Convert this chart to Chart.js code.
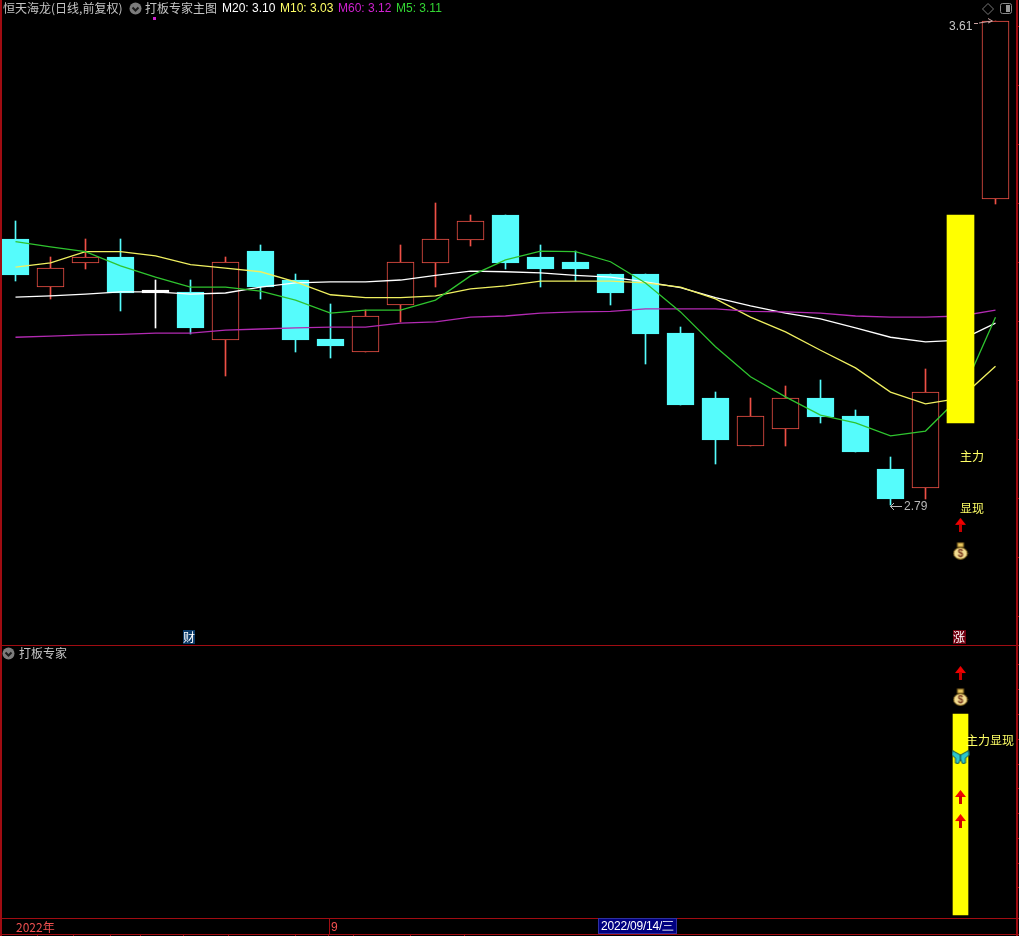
<!DOCTYPE html>
<html lang="zh">
<head>
<meta charset="utf-8">
<title>恒天海龙 日线</title>
<script src="https://cdn.jsdelivr.net/npm/chart.js@4/dist/chart.umd.min.js"></script>
<style>
  html, body { margin: 0; padding: 0; background: #000; width: 1019px; height: 936px; overflow: hidden; }
  canvas { position: absolute; left: 0; display: block; }
  .t { position: absolute; font: 12px/14px "Noto Sans CJK SC", sans-serif; white-space: pre; color: #c4c4c4; }
  .n { font-family: "Liberation Sans", sans-serif; }
  .line { position: absolute; background: #a00c12; }
  svg { position: absolute; }
</style>
</head>
<body>
<canvas id="mainChart" width="1019" height="645" style="top:0"></canvas>
<canvas id="subChart" width="1019" height="272" style="top:646px"></canvas>

<div class="line" style="left:0;top:0;width:2px;height:936px"></div>
<div class="line" style="left:1016px;top:0;width:2px;height:936px"></div>
<div class="line" style="left:0;top:645px;width:1019px;height:1px"></div>
<div class="line" style="left:0;top:918px;width:1019px;height:1px"></div>
<div class="line" style="left:0;top:934px;width:1019px;height:1px"></div>
<div class="line" style="left:329px;top:918px;width:1px;height:16px"></div>

<div class="t" style="left:3px;top:1px">恒天海龙(日线,前复权)</div>
<svg style="left:129px;top:2px" width="13" height="13"><circle cx="6.5" cy="6.5" r="6" fill="#7c7c7c"/><path d="M3.5 5.5 L6.5 8.5 L9.5 5.5" stroke="#1c1c1c" stroke-width="2" fill="none"/></svg>
<div class="t" style="left:145px;top:1px">打板专家主图</div>
<div class="t n" style="left:222px;top:1px;color:#fff">M20: 3.10</div>
<div class="t n" style="left:280px;top:1px;color:#ffff66">M10: 3.03</div>
<div class="t n" style="left:338px;top:1px;color:#d020d0">M60: 3.12</div>
<div class="t n" style="left:396px;top:1px;color:#33d633">M5: 3.11</div>
<div style="position:absolute;left:153px;top:17px;width:3px;height:3px;background:#d020d0"></div>
<svg style="left:982px;top:3px" width="12" height="12"><path d="M6 0.5 L11.5 6 L6 11.5 L0.5 6 Z" stroke="#777" fill="none"/></svg>
<svg style="left:1000px;top:3px" width="12" height="12"><rect x="0.5" y="0.5" width="11" height="10" rx="2" stroke="#888" fill="none"/><rect x="6" y="2" width="4" height="7" fill="#999"/></svg>

<div class="t n" style="left:949px;top:19px;color:#c8c8c8">3.61</div>
<svg style="left:973px;top:17px" width="22" height="10"><path d="M1 6.5 H5 M6 6 L19 4 M15 1.5 L19.5 4 L15 6" stroke="#c8a0a0" fill="none"/></svg>
<svg style="left:889px;top:500px" width="15" height="12"><path d="M1 6.5 H13 M5 3 L1.5 6.5 L5 10" stroke="#b8b8b8" fill="none"/></svg>
<div class="t n" style="left:904px;top:499px;color:#b8b8b8">2.79</div>
<div class="t" style="left:960px;top:449px;color:#ffff66">主力</div>
<div class="t" style="left:960px;top:501px;color:#ffff66">显现</div>

<div class="t" style="left:183px;top:630px;width:12px;height:14px;background:#0a3a68;color:#fff">财</div>
<div class="t" style="left:953px;top:630px;width:13px;height:14px;background:#700010;color:#fff">涨</div>

<svg style="left:2px;top:647px" width="13" height="13"><circle cx="6.5" cy="6.5" r="6" fill="#7c7c7c"/><path d="M3.5 5.5 L6.5 8.5 L9.5 5.5" stroke="#1c1c1c" stroke-width="2" fill="none"/></svg>
<div class="t" style="left:19px;top:646px">打板专家</div>
<div class="t" style="left:966px;top:733px;color:#ffff66">主力显现</div>

<div class="t" style="left:16px;top:920px;color:#f05050">2022年</div>
<div class="t n" style="left:331px;top:920px;color:#f05050">9</div>
<div class="t n" style="left:599px;top:919px;width:77px;height:14px;background:#000080;outline:1px solid #3030a0;color:#fff;text-align:center;letter-spacing:-0.2px">2022/09/14/三</div>

<script>
const dates = [
  '08/19', '08/22', '08/23', '08/24', '08/25', '08/26', '08/29', '08/30', '08/31', '09/01',
  '09/02', '09/05', '09/06', '09/07', '09/08', '09/09', '09/13', '09/14', '09/15', '09/16',
  '09/19', '09/20', '09/21', '09/22', '09/23', '09/26', '09/27', '09/28', '09/29',
];

// the candle on 09/28 is hidden behind the yellow stick
const opens = [
  3.24, 3.16, 3.20, 3.21, 3.15, 3.15, 3.07, 3.22, 3.17, 3.07,
  3.05, 3.13, 3.20, 3.24, 3.28, 3.21, 3.20, 3.18, 3.18, 3.08,
  2.97, 2.89, 2.92, 2.97, 2.94, 2.85, 2.82, null, 3.31,
];
const closes = [
  3.18, 3.19, 3.21, 3.15, 3.15, 3.09, 3.20, 3.16, 3.07, 3.06,
  3.11, 3.20, 3.24, 3.27, 3.20, 3.19, 3.19, 3.15, 3.08, 2.96,
  2.90, 2.94, 2.97, 2.94, 2.88, 2.80, 2.98, null, 3.61,
];
const highs = [
  3.27, 3.21, 3.24, 3.24, 3.17, 3.17, 3.21, 3.23, 3.18, 3.13,
  3.12, 3.23, 3.30, 3.28, 3.28, 3.23, 3.22, 3.18, 3.18, 3.09,
  2.98, 2.97, 2.99, 3.00, 2.95, 2.87, 3.02, null, 3.61,
];
const lows = [
  3.17, 3.14, 3.19, 3.12, 3.09, 3.08, 3.01, 3.14, 3.05, 3.04,
  3.05, 3.10, 3.16, 3.23, 3.19, 3.16, 3.17, 3.13, 3.03, 2.96,
  2.86, 2.89, 2.89, 2.93, 2.88, 2.79, 2.80, null, 3.30,
];

const m5 = [
  3.236, 3.227, 3.219, 3.195, 3.176, 3.159, 3.159, 3.152, 3.137, 3.115,
  3.120, 3.120, 3.137, 3.178, 3.205, 3.220, 3.219, 3.202, 3.166, 3.117,
  3.058, 3.007, 2.973, 2.942, 2.929, 2.907, 2.915, 2.974, 3.108,
];
const m10 = [
  3.193, 3.200, 3.219, 3.219, 3.212, 3.197, 3.191, 3.185, 3.168, 3.146,
  3.141, 3.141, 3.144, 3.156, 3.161, 3.169, 3.169, 3.169, 3.166, 3.159,
  3.139, 3.108, 3.083, 3.052, 3.022, 2.981, 2.961, 2.971, 3.025,
];
const m20 = [
  3.142, 3.144, 3.147, 3.151, 3.151, 3.147, 3.149, 3.159, 3.166, 3.168,
  3.168, 3.171, 3.179, 3.186, 3.185, 3.183, 3.179, 3.176, 3.168, 3.158,
  3.141, 3.127, 3.115, 3.105, 3.090, 3.074, 3.066, 3.069, 3.098,
];
const m60 = [
  3.074, 3.076, 3.078, 3.079, 3.081, 3.081, 3.086, 3.088, 3.090, 3.091,
  3.091, 3.098, 3.100, 3.108, 3.110, 3.115, 3.117, 3.118, 3.122, 3.122,
  3.122, 3.118, 3.117, 3.115, 3.110, 3.108, 3.108, 3.110, 3.120,
];

// both panels mark the same day
const signalDay = '09/28';
const mainStick = [2.93, 3.28];
const mainArrowAt = [2.756];
const mainBagAt = [2.712];
const subStick = [-0.5, 80];
const subArrowsAt = [96.7, 46.7, 37];
const subBagAt = [87];
const subButterflyAt = [62.8];

const priceTicks = [3.6, 3.5, 3.4, 3.3, 3.2, 3.1, 3.0, 2.9, 2.8, 2.7, 2.6];
const subTicks = [100, 90, 80, 70, 60, 50, 40, 30, 20, 10];
const stripTickX = [37, 73, 110, 140, 183, 228, 295, 328, 353, 410, 464];

const RED = '#ee5046';
const CYAN = '#55fcfc';

stripTickX.forEach((x) => {
  const tick = document.createElement('div');
  tick.className = 'line';
  tick.style.cssText = `left:${x}px;top:935px;width:1px;height:1px`;
  document.body.appendChild(tick);
});

function makeIcon(w, h, draw) {
  const c = document.createElement('canvas');
  c.width = w;
  c.height = h;
  draw(c.getContext('2d'));
  return c;
}

const arrowIcon = makeIcon(11, 14, (ctx) => {
  ctx.fillStyle = '#f00000';
  ctx.beginPath();
  ctx.moveTo(5.5, 0);
  ctx.lineTo(11, 7);
  ctx.lineTo(0, 7);
  ctx.closePath();
  ctx.fill();
  ctx.fillStyle = '#c80000';
  ctx.fillRect(4, 6, 3, 8);
});

const bagIcon = makeIcon(16, 18, (ctx) => {
  ctx.fillStyle = '#f2dc90';
  ctx.strokeStyle = '#8a6a20';
  ctx.beginPath();
  ctx.ellipse(8, 11.5, 6.8, 5.8, 0, 0, Math.PI * 2);
  ctx.fill();
  ctx.stroke();
  ctx.fillStyle = '#e8c860';
  ctx.fillRect(5, 1, 6, 4);
  ctx.strokeRect(5, 1, 6, 4);
  ctx.fillStyle = '#7a3a20';
  ctx.font = 'bold 10px "Liberation Sans"';
  ctx.textAlign = 'center';
  ctx.fillText('$', 8, 15);
});

const butterflyIcon = makeIcon(18, 14, (ctx) => {
  ctx.fillStyle = '#2cc8cc';
  ctx.strokeStyle = '#0a4a50';
  [[1, 0], [-1, 18]].forEach(([dir, shift]) => {
    ctx.beginPath();
    ctx.moveTo(shift + dir * 9, 5);
    ctx.lineTo(shift + dir * 1, 0.5);
    ctx.lineTo(shift + dir * 0.5, 5);
    ctx.lineTo(shift + dir * 4, 8);
    ctx.lineTo(shift + dir * 4, 13);
    ctx.lineTo(shift + dir * 7, 13.5);
    ctx.lineTo(shift + dir * 9, 9);
    ctx.closePath();
    ctx.fill();
    ctx.stroke();
  });
});

function candleColor(i) {
  if (closes[i] > opens[i]) return RED;
  if (closes[i] < opens[i]) return CYAN;
  return '#ffffff';
}

function lineSet(data, color, order) {
  return {
    type: 'line', data, borderColor: color, borderWidth: 1.3, tension: 0,
    pointRadius: 0, order, clip: false,
  };
}

function stickSet(range, thickness) {
  return {
    type: 'bar', data: dates.map((d) => (d === signalDay ? range : null)),
    backgroundColor: '#ffff00', borderWidth: 0, barThickness: thickness,
    grouped: false, order: 1, clip: false,
  };
}

function iconSet(values, icon, pointRadius) {
  return {
    type: 'line', showLine: false, data: values.map((y) => ({ x: signalDay, y })),
    pointStyle: icon, pointRadius, order: 0, clip: false,
  };
}

// bars sit on whole pixels like the reference, edges otherwise blur
const snapBars = {
  id: 'snapBars',
  afterDatasetsUpdate(chart) {
    chart.getSortedVisibleDatasetMetas().forEach((meta) => {
      if (meta.type !== 'bar') return;
      meta.data.forEach((el) => {
        if (el.skip) return;
        const top = Math.floor(Math.min(el.y, el.base));
        const bottom = Math.floor(Math.max(el.y, el.base)) + 1;
        el.x = Math.floor(el.x) + 0.5;
        el.y = top;
        el.base = bottom;
      });
    });
  },
};

// short marks just right of the frame, one per tick value
const frameTicks = {
  id: 'frameTicks',
  afterDraw(chart, args, opts) {
    const { ctx, scales } = chart;
    ctx.save();
    ctx.fillStyle = '#b00a10';
    opts.values.forEach((v) => {
      ctx.fillRect(1017, Math.floor(scales.y.getPixelForValue(v)), 2, 1);
    });
    ctx.restore();
  },
};

function panelOptions(yMin, yMax, ticks) {
  return {
    responsive: false,
    animation: false,
    events: [],
    layout: { autoPadding: false, padding: { left: 15.5, right: 23.5, top: 0, bottom: 0 } },
    plugins: {
      legend: { display: false },
      tooltip: { enabled: false },
      frameTicks: { values: ticks },
    },
    scales: {
      x: { type: 'category', offset: false, display: false },
      y: { type: 'linear', min: yMin, max: yMax, display: false },
    },
  };
}

new Chart(document.getElementById('mainChart'), {
  type: 'bar',
  plugins: [snapBars, frameTicks],
  data: {
    labels: dates,
    datasets: [
      iconSet(mainArrowAt, arrowIcon, 7),
      iconSet(mainBagAt, bagIcon, 9),
      stickSet(mainStick, 27),
      lineSet(m5, '#2fc42f', 2),
      lineSet(m60, '#b22ab2', 3),
      lineSet(m10, '#f0f060', 4),
      lineSet(m20, '#ffffff', 5),
      {
        type: 'bar',
        data: opens.map((o, i) => (o === null ? null : [o, closes[i]])),
        backgroundColor: dates.map((d, i) => (closes[i] > opens[i] ? '#000000' : candleColor(i))),
        borderColor: dates.map((d, i) => candleColor(i)),
        borderWidth: 1,
        borderSkipped: false,
        barThickness: 27,
        minBarLength: 2,
        grouped: false,
        order: 6,
        clip: false,
      },
      {
        type: 'bar',
        data: lows.map((l, i) => (l === null ? null : [l, highs[i]])),
        backgroundColor: dates.map((d, i) => candleColor(i)),
        borderWidth: 0,
        barThickness: 1,
        grouped: false,
        order: 7,
        clip: false,
      },
    ],
  },
  options: panelOptions(2.5524, 3.6456, priceTicks),
});

new Chart(document.getElementById('subChart'), {
  type: 'bar',
  plugins: [snapBars, frameTicks],
  data: {
    labels: dates,
    datasets: [
      iconSet(subArrowsAt, arrowIcon, 7),
      iconSet(subBagAt, bagIcon, 9),
      iconSet(subButterflyAt, butterflyIcon, 9),
      stickSet(subStick, 15),
    ],
  },
  options: panelOptions(-2.1, 107.6, subTicks),
});
</script>
</body>
</html>
